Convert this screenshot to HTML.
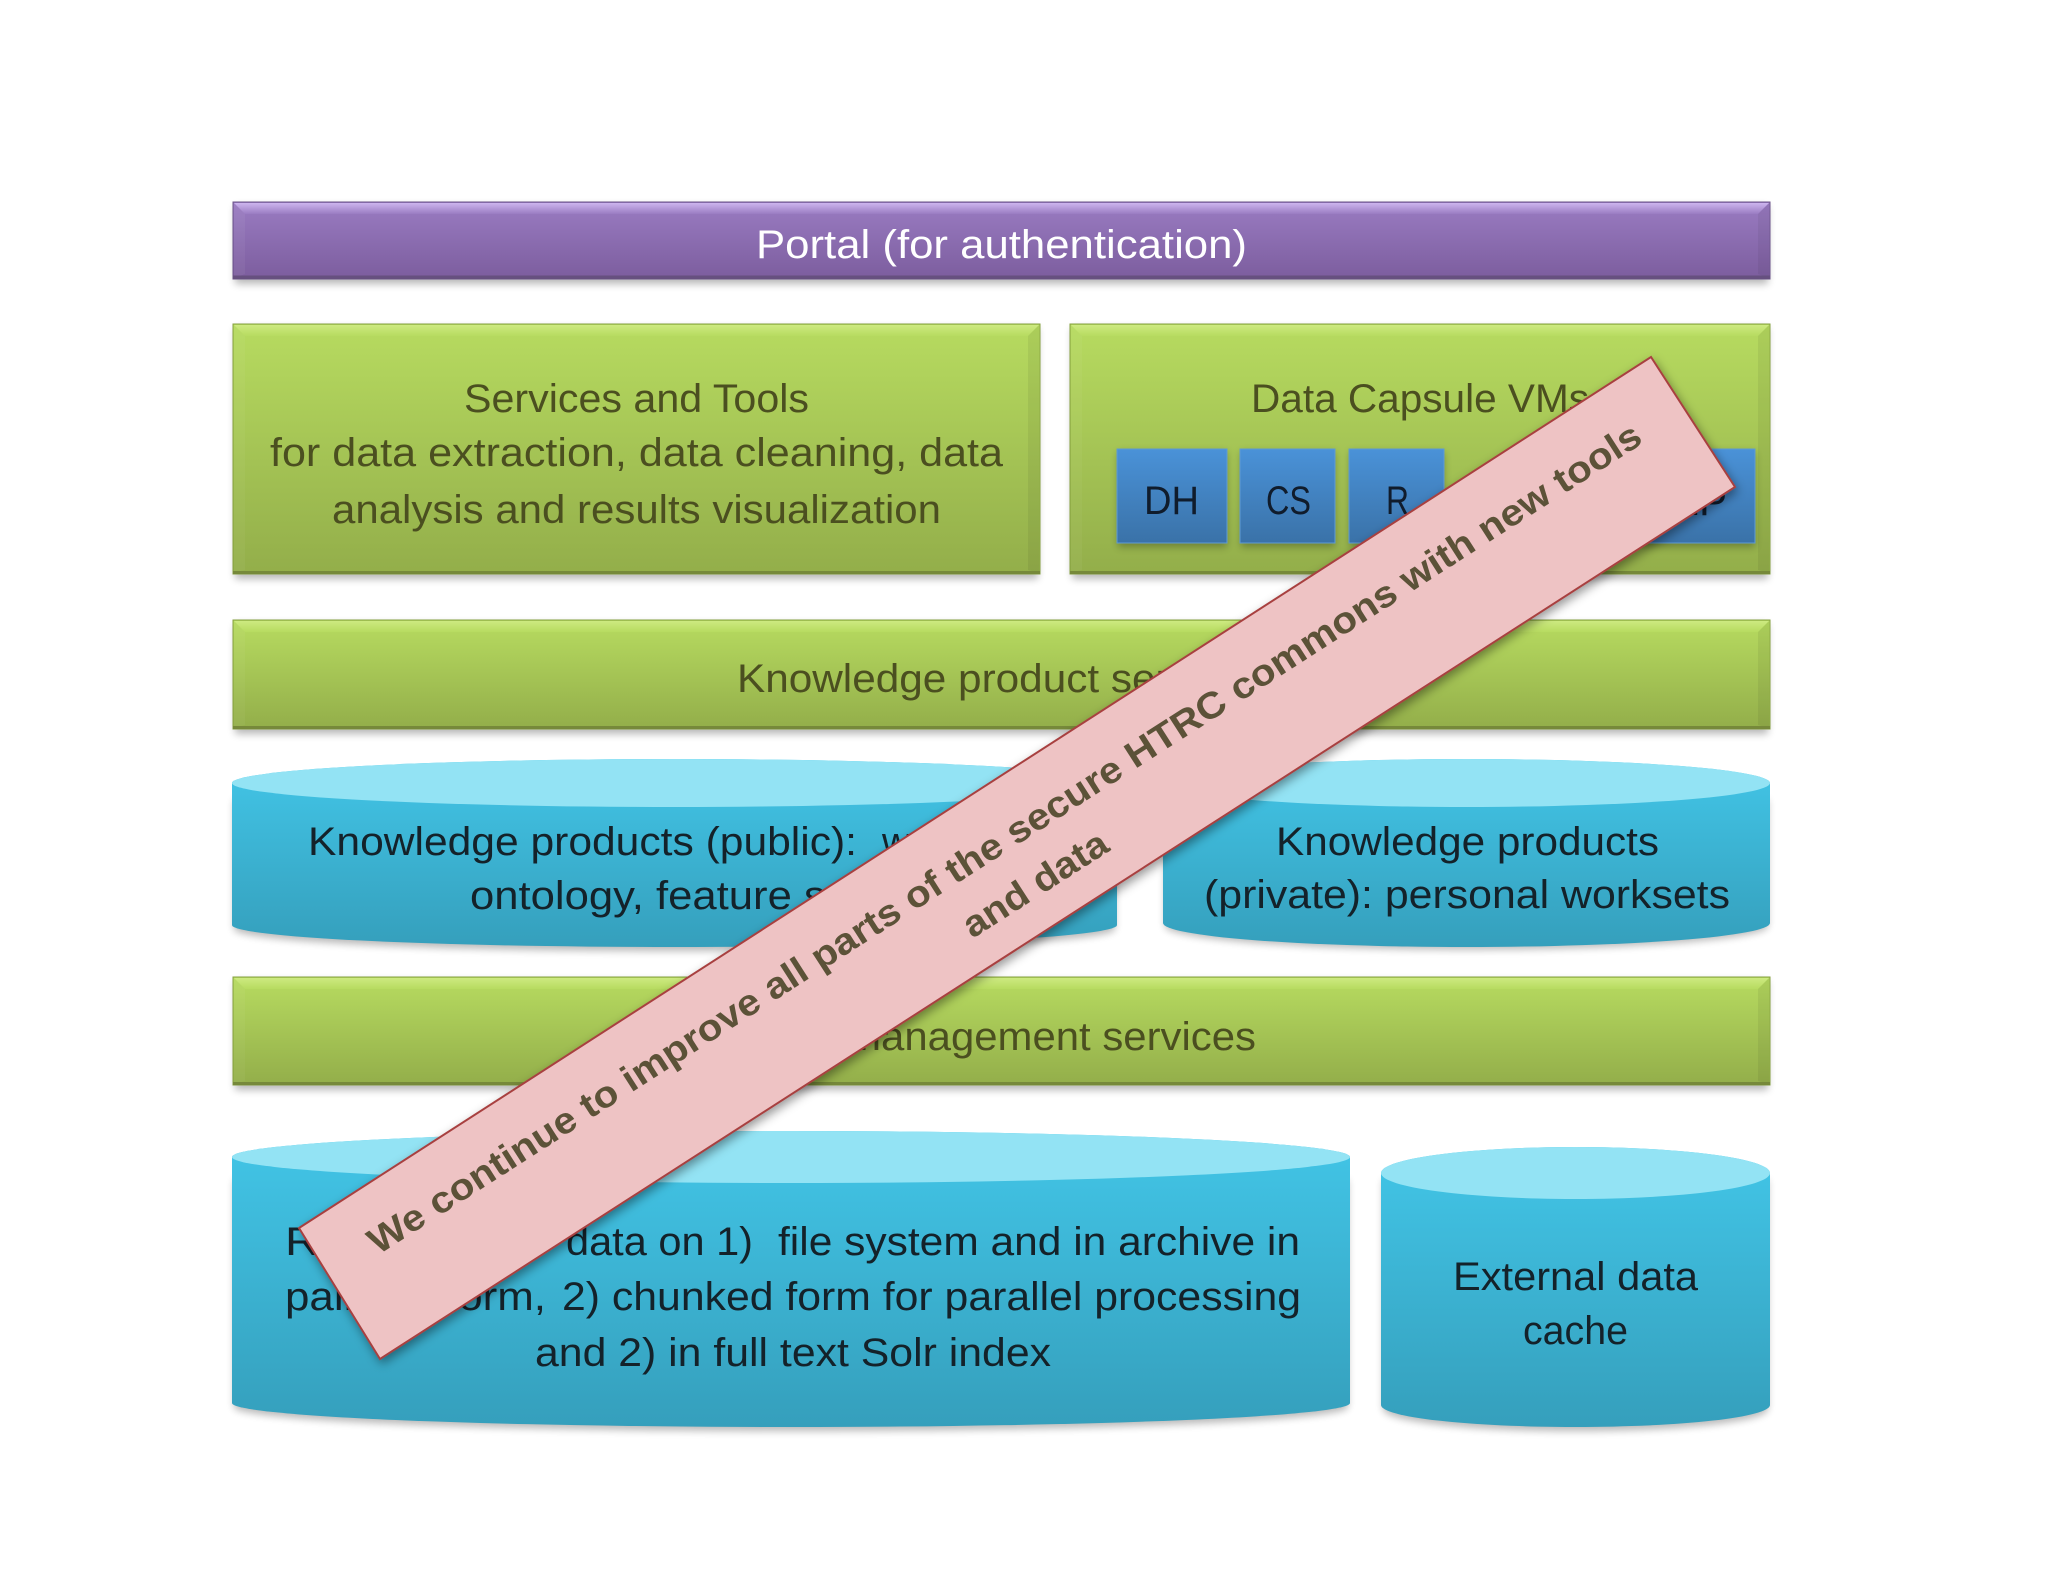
<!DOCTYPE html>
<html><head><meta charset="utf-8"><style>
html,body{margin:0;padding:0;background:#fff}
svg{display:block}
text{font-family:"Liberation Sans",sans-serif}
.t{font-size:40px;fill:#4b4f20}
.c{font-size:40px;fill:#14222a}
.b{font-size:40px;fill:#101c2c}
.w{font-size:40px;fill:#fff}
.x{font-size:37px;font-weight:bold;fill:#5c5238}
</style></head><body>
<svg xmlns="http://www.w3.org/2000/svg" width="2048" height="1582" viewBox="0 0 2048 1582">
<defs>
<linearGradient id="gG" x1="0" y1="0" x2="0" y2="1"><stop offset="0" stop-color="#b7db60"/><stop offset="1" stop-color="#93ae4a"/></linearGradient>
<linearGradient id="gP" x1="0" y1="0" x2="0" y2="1"><stop offset="0" stop-color="#9a7cc2"/><stop offset="1" stop-color="#7c5d9e"/></linearGradient>
<linearGradient id="gB" x1="0" y1="0" x2="0" y2="1"><stop offset="0" stop-color="#4a92d8"/><stop offset="1" stop-color="#3a72a8"/></linearGradient>
<linearGradient id="gC" x1="0" y1="0" x2="0" y2="1"><stop offset="0" stop-color="#42c6e8"/><stop offset="1" stop-color="#359fbc"/></linearGradient>
<linearGradient id="hG" x1="0" y1="0" x2="0" y2="1"><stop offset="0" stop-color="#cdea80"/><stop offset="1" stop-color="#b7db60"/></linearGradient>
<linearGradient id="hP" x1="0" y1="0" x2="0" y2="1"><stop offset="0" stop-color="#cdb5ee"/><stop offset="1" stop-color="#9a7cc2"/></linearGradient>
<filter id="s" x="-5%" y="-20%" width="110%" height="150%"><feGaussianBlur stdDeviation="4"/></filter>
<filter id="ds" x="-5%" y="-10%" width="110%" height="120%"><feDropShadow dx="2" dy="4" stdDeviation="5" flood-color="#000" flood-opacity=".4"/></filter>
</defs>

<!-- shadows -->
<g fill="#000" opacity=".28" filter="url(#s)">
<rect x="235" y="206" width="1533" height="78"/>
<rect x="235" y="328" width="803" height="251"/>
<rect x="1072" y="328" width="696" height="251"/>
<rect x="235" y="624" width="1533" height="110"/>
<rect x="235" y="981" width="1533" height="109"/>
<path d="M234,800 H1115 V929 A440,22 0 0 1 234,929Z"/>
<path d="M1165,800 H1768 V927 A302,24 0 0 1 1165,927Z"/>
<path d="M234,1180 H1348 V1407 A557,24 0 0 1 234,1407Z"/>
<path d="M1383,1180 H1768 V1409 A192,22 0 0 1 1383,1409Z"/>
</g>

<!-- Portal -->
<rect x="233" y="202" width="1537" height="77" fill="url(#gP)" stroke="#6b5389" stroke-width="1"/>
<polygon points="234,203 1769,203 1758,214 245,214" fill="url(#hP)"/>
<polygon points="234,203 245,214 245,274 234,278" fill="#fff" opacity=".05"/>
<polygon points="1769,203 1758,214 1758,274 1769,278" fill="#000" opacity=".05"/>
<rect x="233" y="275.500" width="1537" height="3.500" fill="#66507f"/>
<text class="w" x="756" y="258" textLength="491" lengthAdjust="spacingAndGlyphs">Portal (for authentication)</text>

<!-- Services -->
<rect x="233" y="324" width="807" height="250" fill="url(#gG)" stroke="#85a040" stroke-width="1"/>
<polygon points="234,325 1039,325 1028,336 245,336" fill="url(#hG)"/>
<polygon points="234,325 245,336 245,570 234,573" fill="#fff" opacity=".04"/>
<polygon points="1039,325 1028,336 1028,570 1039,573" fill="#000" opacity=".06"/>
<rect x="233" y="571" width="807" height="3" fill="#76893a"/>
<text class="t" x="464" y="412" textLength="345" lengthAdjust="spacingAndGlyphs">Services and Tools</text>
<text class="t" x="270" y="466" textLength="733" lengthAdjust="spacingAndGlyphs">for data extraction, data cleaning, data</text>
<text class="t" x="332" y="523" textLength="609" lengthAdjust="spacingAndGlyphs">analysis and results visualization</text>

<!-- Capsule -->
<rect x="1070" y="324" width="700" height="250" fill="url(#gG)" stroke="#85a040" stroke-width="1"/>
<polygon points="1071,325 1769,325 1758,336 1082,336" fill="url(#hG)"/>
<polygon points="1071,325 1082,336 1082,570 1071,573" fill="#fff" opacity=".04"/>
<polygon points="1769,325 1758,336 1758,570 1769,573" fill="#000" opacity=".06"/>
<rect x="1070" y="571" width="700" height="3" fill="#76893a"/>
<text class="t" x="1251" y="412" textLength="338" lengthAdjust="spacingAndGlyphs">Data Capsule VMs</text>

<g fill="#000" opacity=".28" filter="url(#s)">
<rect x="1118" y="452" width="109" height="95"/><rect x="1241" y="452" width="94" height="95"/><rect x="1350" y="452" width="94" height="95"/><rect x="1642" y="452" width="113" height="95"/>
</g>
<g fill="url(#gB)" stroke="#5f9bd4" stroke-width="1">
<rect x="1117" y="449" width="110" height="94"/>
<rect x="1240" y="449" width="95" height="94"/>
<rect x="1349" y="449" width="95" height="94"/>
<rect x="1640" y="449" width="115" height="94"/>
</g>
<text class="b" x="1144" y="514" textLength="55" lengthAdjust="spacingAndGlyphs">DH</text>
<text class="b" x="1266" y="514" textLength="45" lengthAdjust="spacingAndGlyphs">CS</text>
<text class="b" x="1386" y="514" textLength="23" lengthAdjust="spacingAndGlyphs">R</text>
<text class="b" x="1671" y="515" textLength="56" lengthAdjust="spacingAndGlyphs">EP</text>

<!-- Knowledge product services -->
<rect x="233" y="620" width="1537" height="109" fill="url(#gG)" stroke="#85a040" stroke-width="1"/>
<polygon points="234,621 1769,621 1758,632 245,632" fill="url(#hG)"/>
<polygon points="234,621 245,632 245,725 234,728" fill="#fff" opacity=".04"/>
<polygon points="1769,621 1758,632 1758,725 1769,728" fill="#000" opacity=".06"/>
<rect x="233" y="726" width="1537" height="3" fill="#76893a"/>
<text class="t" x="737" y="692" textLength="529" lengthAdjust="spacingAndGlyphs">Knowledge product services</text>

<!-- Knowledge public -->
<path d="M232,783 A442.5,24 0 0 1 1117,783 V925 A442.5,22 0 0 1 232,925Z" fill="url(#gC)"/>
<ellipse cx="674.5" cy="783" rx="442.5" ry="24" fill="#93e3f4"/>
<text class="c" x="308" y="855" textLength="549" lengthAdjust="spacingAndGlyphs">Knowledge products (public):</text>
<text class="c" x="882" y="855" textLength="164" lengthAdjust="spacingAndGlyphs">worksets,</text>
<text class="c" x="470" y="909" textLength="414" lengthAdjust="spacingAndGlyphs">ontology, feature sets</text>

<!-- Knowledge private -->
<path d="M1163,783 A303.5,24 0 0 1 1770,783 V923 A303.5,24 0 0 1 1163,923Z" fill="url(#gC)"/>
<ellipse cx="1466.5" cy="783" rx="303.5" ry="24" fill="#93e3f4"/>
<text class="c" x="1276" y="855" textLength="383" lengthAdjust="spacingAndGlyphs">Knowledge products</text>
<text class="c" x="1204" y="908" textLength="526" lengthAdjust="spacingAndGlyphs">(private): personal worksets</text>

<!-- Management -->
<rect x="233" y="977" width="1537" height="108" fill="url(#gG)" stroke="#85a040" stroke-width="1"/>
<polygon points="234,978 1769,978 1758,989 245,989" fill="url(#hG)"/>
<polygon points="234,978 245,989 245,1081 234,1084" fill="#fff" opacity=".04"/>
<polygon points="1769,978 1758,989 1758,1081 1769,1084" fill="#000" opacity=".06"/>
<rect x="233" y="1082" width="1537" height="3" fill="#76893a"/>
<text class="t" x="746" y="1050" textLength="510" lengthAdjust="spacingAndGlyphs">Data management services</text>

<!-- Repository -->
<path d="M232,1157 A559,26 0 0 1 1350,1157 V1403 A559,24 0 0 1 232,1403Z" fill="url(#gC)"/>
<ellipse cx="791" cy="1157" rx="559" ry="26" fill="#93e3f4"/>
<text class="c" x="285" y="1255" textLength="260" lengthAdjust="spacingAndGlyphs">Raw volume</text>
<text class="c" x="566" y="1255" textLength="187" lengthAdjust="spacingAndGlyphs">data on 1)</text>
<text class="c" x="778" y="1255" textLength="522" lengthAdjust="spacingAndGlyphs">file system and in archive in</text>
<text class="c" x="285" y="1310" textLength="261" lengthAdjust="spacingAndGlyphs">pairtree form,</text>
<text class="c" x="562" y="1310" textLength="739" lengthAdjust="spacingAndGlyphs">2) chunked form for parallel processing</text>
<text class="c" x="535" y="1366" textLength="516" lengthAdjust="spacingAndGlyphs">and 2) in full text Solr index</text>

<!-- External -->
<path d="M1381,1173 A194.5,26 0 0 1 1770,1173 V1405 A194.5,22 0 0 1 1381,1405Z" fill="url(#gC)"/>
<ellipse cx="1575.5" cy="1173" rx="194.5" ry="26" fill="#93e3f4"/>
<text class="c" x="1453" y="1290" textLength="245" lengthAdjust="spacingAndGlyphs">External data</text>
<text class="c" x="1523" y="1344" textLength="105" lengthAdjust="spacingAndGlyphs">cache</text>

<!-- Banner -->
<polygon points="299,1228 1651,357 1735,487 380,1359" fill="#eec3c4" stroke="#a8403f" stroke-width="2" stroke-linejoin="miter" filter="url(#ds)"/>
<g transform="translate(1019,858) rotate(-32.7)">
<text class="x" x="-754" y="-12" textLength="1505" lengthAdjust="spacingAndGlyphs">We continue to improve all parts of the secure HTRC commons with new tools</text>
<text class="x" x="-83" y="43" textLength="165" lengthAdjust="spacingAndGlyphs">and data</text>
</g>
</svg>
</body></html>
